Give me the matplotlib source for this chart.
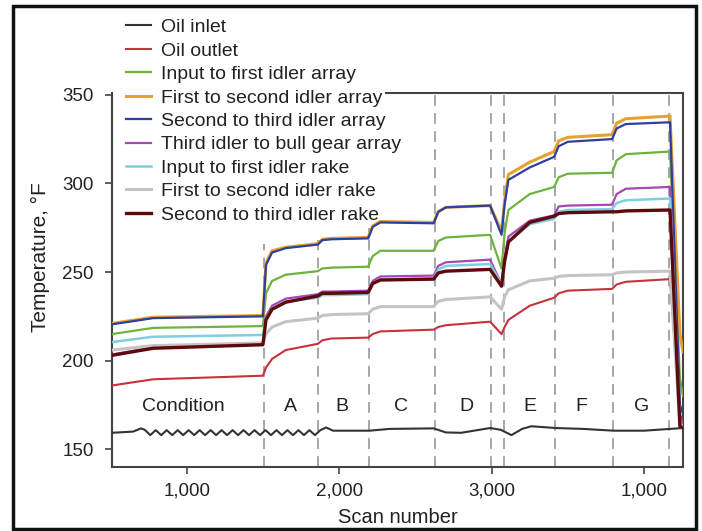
import matplotlib
matplotlib.use("Agg")
import matplotlib.pyplot as plt
from matplotlib.patches import Rectangle

plt.rcParams['font.family'] = ['Liberation Sans', 'DejaVu Sans']

# shared scan breakpoints for the bearing / rake temperatures
scan = [510, 780, 1500, 1520, 1560, 1650, 1860, 1890, 1950, 2190, 2220, 2270, 2620, 2650,
        2700, 2990, 3065, 3085, 3110, 3250, 3410, 3440, 3500, 3790, 3820, 3880, 4170, 4235, 4255]

oil_outlet = [186, 189.5, 191.5, 196, 201, 206, 209.5, 211.5, 212.5, 213, 215, 216.5, 217.5, 219,
              220, 222, 215, 219, 223, 231, 235.5, 238, 239.5, 240.5, 243, 244.5, 246, 170, 165]
in_first_array = [215, 218.5, 219.5, 238, 245, 248.5, 250.5, 252, 252.5, 253, 259, 262, 262, 267.5,
                  269.5, 271, 252, 272, 285, 294, 298, 303.5, 305.5, 306, 313, 316.5, 318, 190, 180]
first_second_array = [221, 224.5, 225.5, 255, 262, 264, 266, 268.5, 269, 269.5, 276, 278.5, 278, 284,
                      286.5, 287.5, 273, 290, 305, 312, 318, 324, 326, 327.5, 334, 336.5, 338, 215, 205]
second_third_array = [220.5, 224, 225, 254, 261, 263.5, 265.5, 268, 268.5, 269, 275.5, 278, 277.5, 284,
                      286.5, 287.5, 271, 288, 302, 309, 315, 321, 323.5, 325, 331, 333.5, 334.5, 175, 170]
third_bull_array = [203.5, 207.5, 209.5, 225, 231, 235, 237.5, 239, 239, 239.5, 245, 247.5, 248, 253.5,
                    255.5, 257, 243, 258, 270, 279, 282, 287, 287.5, 288, 294, 297, 298, 168, 165]
in_first_rake = [210.5, 213.5, 214.5, 224, 229.5, 233.5, 235.5, 237, 237, 237.5, 243.5, 246, 246.5, 251.5,
                 253.5, 254.5, 243, 256, 267, 277, 280, 284, 285, 285.5, 289, 290.5, 291.5, 165, 163]
first_second_rake = [206, 208.5, 210, 215, 219, 222, 224, 225.5, 226, 226.5, 229, 230.5, 230.5, 233.5,
                     234.5, 236, 229, 236, 240, 245, 246.5, 247.5, 248, 248.5, 249.5, 250, 250.5, 163, 162]
second_third_rake = [203, 207, 209, 223, 229, 233, 236.5, 238, 238, 238.5, 243.5, 245.5, 246, 249.5,
                     250.5, 251.5, 242, 256, 267, 278, 281.5, 283, 283.5, 284, 284, 284.5, 285, 163, 162]

# oil inlet has its own points (wavy during the condition run)
inlet_scan = [510, 650, 700,
              725, 761, 797, 833, 869, 905, 941, 977, 1013, 1049, 1085, 1121, 1157, 1193, 1229, 1265,
              1301, 1337, 1373, 1409, 1445, 1481, 1517, 1553, 1589, 1625, 1661, 1697, 1733, 1769,
              1805, 1841, 1877,
              1915, 1960, 2200, 2330, 2620, 2700, 2800, 2990, 3060, 3130, 3200, 3260, 3420, 3600,
              3800, 4000, 4170, 4255]
oil_inlet = [159.3, 160, 161.8,
             161, 158, 160.8, 158, 160.8, 158, 160.8, 158, 160.8, 158, 160.8, 158, 160.8, 158, 160.8, 158,
             160.8, 158, 160.8, 158, 160.8, 158, 160.8, 158, 160.8, 158, 160.8, 158, 160.8, 158,
             160.8, 158, 160.8,
             162.3, 160.5, 160.5, 161.5, 161.8, 159.5, 159.3, 162, 161, 158, 161.5, 163, 162, 161.5,
             160.5, 160.5, 161.5, 162]

# condition boundaries; the first three stop below the legend
boundaries = [1510, 1863, 2196, 2628, 2994, 3079, 3418, 3797, 4164]
boundary_top = [266, 268, 275, 351, 351, 351, 351, 351, 351]
cond_names = ["Condition", "A", "B", "C", "D", "E", "F", "G"]
cond_x = [980, 1680, 2020, 2405, 2837, 3249, 3590, 3987]

series = [
    ("Oil inlet", inlet_scan, oil_inlet, "#333333", 1.5),
    ("Oil outlet", scan, oil_outlet, "#c8323c", 1.5),
    ("Input to first idler array", scan, in_first_array, "#6cb33f", 1.6),
    ("First to second idler array", scan, first_second_array, "#e8a030", 2.2),
    ("Second to third idler array", scan, second_third_array, "#2f3f9e", 1.6),
    ("Third idler to bull gear array", scan, third_bull_array, "#a548b0", 1.6),
    ("Input to first idler rake", scan, in_first_rake, "#7fcfe0", 1.8),
    ("First to second idler rake", scan, first_second_rake, "#c4c4c4", 2.2),
    ("Second to third idler rake", scan, second_third_rake, "#5e0a0c", 2.4),
]

fig = plt.figure(figsize=(7.02, 5.31), dpi=100)
ax = fig.add_axes([0.1595, 0.1205, 0.8134, 0.7043])

ax.vlines(boundaries, 140, boundary_top, color="#a0a0a0", lw=1.3, linestyles=(0, (6, 4)), zorder=1)

for name, xs, ys, col, lw in series:
    ax.plot(xs, ys, color=col, lw=lw, label=name, zorder=3)

for name, x in zip(cond_names, cond_x):
    ax.text(x, 174, name, ha="center", va="center", fontsize=14, color="#222222")

ax.set_xlim(510, 4255)
ax.set_ylim(140, 351)
ax.set_yticks([150, 200, 250, 300, 350])
ax.set_xticks([1000, 2000, 3000, 4000])
ax.set_xticklabels(["1,000", "2,000", "3,000", "1,000"])
ax.tick_params(direction="out", length=5, width=1.2, color="#444444",
               labelsize=13.5, labelcolor="#222222", pad=6)
ax.tick_params(axis="y", pad=8)
for s in ax.spines.values():
    s.set_color("#444444")
    s.set_linewidth(1.5)
ax.spines["top"].set_bounds(2307, 4255)

ax.set_xlabel("Scan number", fontsize=14.5, color="#222222", labelpad=6)
fig.text(40 / 702, 1 - 257 / 531, "Temperature, °F", rotation=90, fontsize=15,
         color="#222222", ha="center", va="center")

leg = ax.legend(loc="upper left", bbox_to_anchor=(0.171, 0.976), bbox_transform=fig.transFigure,
                fontsize=14, frameon=False, borderpad=0.3, handlelength=1.3, handletextpad=0.5,
                labelspacing=0.3, borderaxespad=0)
for t in leg.get_texts():
    t.set_color("#222222")

fig.add_artist(Rectangle((0.0185, 0.004), 0.973, 0.985, transform=fig.transFigure,
                         fill=False, edgecolor="#111111", lw=2.5))

fig.savefig("out.png", dpi=100)
